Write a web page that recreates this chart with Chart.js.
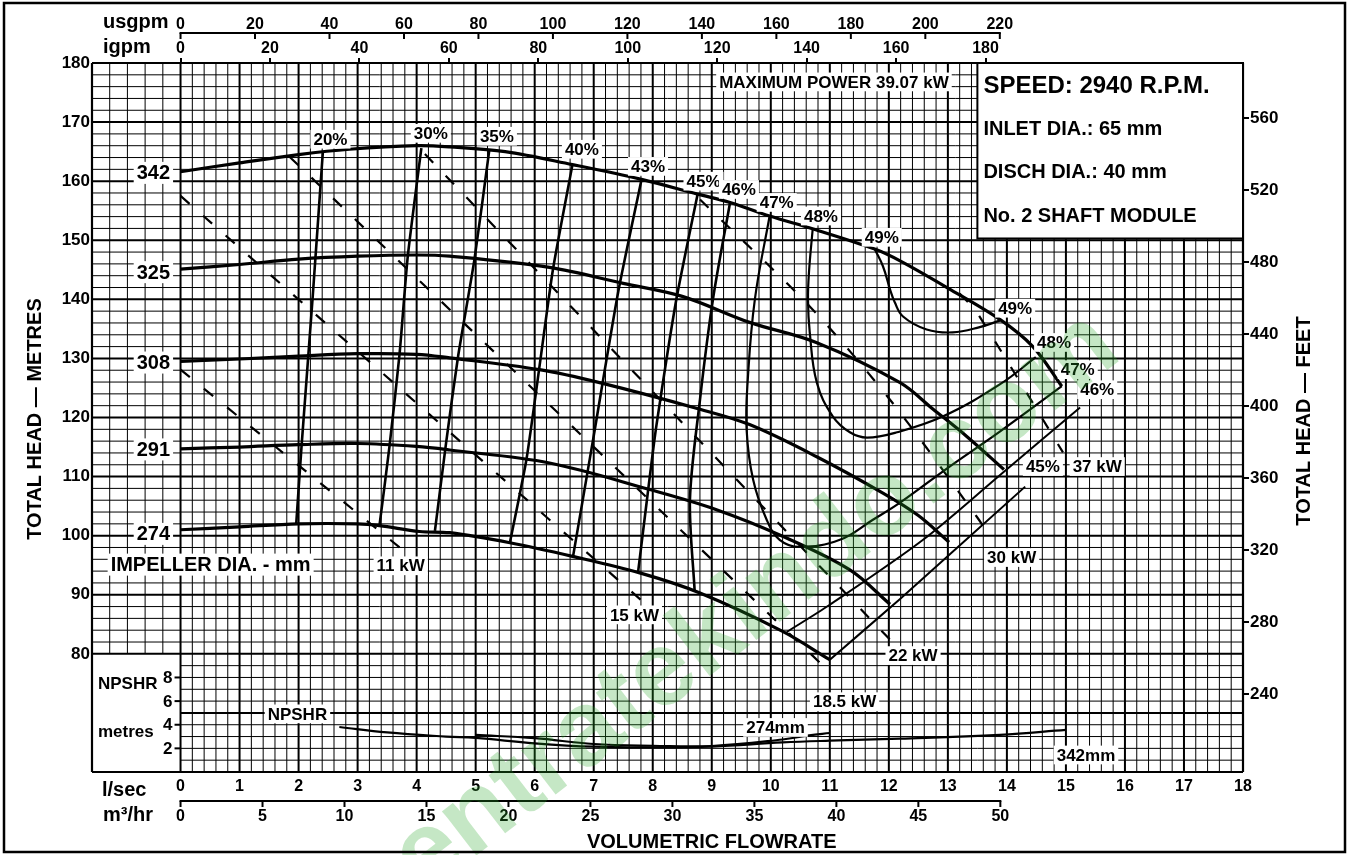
<!DOCTYPE html>
<html>
<head>
<meta charset="utf-8">
<script src="https://cdn.jsdelivr.net/npm/chart.js@4.4.1/dist/chart.umd.min.js"></script>
<style>
  html, body { margin: 0; padding: 0; background: #fff; }
  #pumpChart { display: block; }
</style>
</head>
<body>
<canvas id="pumpChart" width="1347" height="855"></canvas>
<script>
// unit factors from l/sec and metres
var M_TO_FT = 3.28084, LS_TO_USGPM = 15.8503, LS_TO_IGPM = 13.1982, LS_TO_M3HR = 3.6;

// tick labels
var lsecTicks = [0, 1, 2, 3, 4, 5, 6, 7, 8, 9, 10, 11, 12, 13, 14, 15, 16, 17, 18];
var m3hrTicks = [0, 5, 10, 15, 20, 25, 30, 35, 40, 45, 50];
var usgpmTicks = [0, 20, 40, 60, 80, 100, 120, 140, 160, 180, 200, 220];
var igpmTicks = [0, 20, 40, 60, 80, 100, 120, 140, 160, 180];
var headTicks = [80, 90, 100, 110, 120, 130, 140, 150, 160, 170, 180];
var feetTicks = [240, 280, 320, 360, 400, 440, 480, 520, 560];
var npshrTicks = [2, 4, 6, 8];

// head curves [l/sec, metres] per impeller diameter
var dia342 = [[0, 161.6], [1, 163.1], [2, 164.5], [2.86, 165.4], [4, 166.0], [4.56, 165.8], [5.5, 165.0], [6.64, 162.8], [7.81, 160.3], [8.76, 157.8], [9.31, 156.4], [9.98, 154.1], [10.72, 151.9], [11.76, 148.5], [12.19, 146.5], [13.0, 141.9], [13.88, 136.6], [14.44, 132.0], [14.93, 125.3]];
var dia325 = [[0, 145.1], [1, 145.9], [2, 146.8], [3, 147.3], [4, 147.5], [4.56, 147.3], [6.25, 145.4], [7.5, 142.7], [8.5, 140.5], [9.64, 136.1], [10.77, 132.7], [12.19, 125.9], [12.75, 121.4], [13.32, 116.8], [13.95, 111.2]];
var dia308 = [[0, 129.5], [1, 129.9], [2, 130.4], [3, 130.8], [4, 130.7], [4.56, 130.1], [6.08, 128.1], [7.1, 125.9], [8.8, 121.4], [9.64, 118.8], [10.77, 113.4], [11.9, 107.2], [12.5, 103.4], [13.02, 98.9]];
var dia291 = [[0, 114.7], [1, 115.0], [2, 115.4], [3, 115.6], [4, 115.1], [4.56, 114.5], [6.25, 112.3], [7.95, 107.8], [9.08, 104.4], [10.2, 99.9], [11.34, 94.2], [12.02, 88.4]];
var dia274 = [[0, 101.0], [1, 101.5], [2, 102.0], [3, 102.0], [3.37, 101.7], [4.05, 100.7], [4.56, 100.5], [5.58, 98.8], [6.64, 96.5], [7.78, 93.7], [8.8, 90.3], [10.2, 83.8], [11.0, 79.0]];

// efficiency lines [l/sec, metres]
var eff20 = [[2.41, 164.8], [2.24, 140.6], [2.05, 115.1], [1.96, 102.0]];
var eff30 = [[4.08, 165.6], [3.85, 147.3], [3.71, 130.7], [3.54, 115.1], [3.37, 101.7]];
var eff35 = [[5.23, 165.2], [4.98, 146.8], [4.7, 130.2], [4.5, 115.8], [4.31, 100.8]];
var eff40 = [[6.64, 162.8], [6.31, 145.1], [6.1, 130.0], [5.86, 112.9], [5.58, 98.8]];
var eff43 = [[7.81, 160.3], [7.41, 141.0], [6.99, 116.3], [6.65, 96.5]];
var eff45a = [[8.76, 157.8], [8.4, 140.0], [8.06, 118.5], [7.95, 110.0], [7.75, 93.7]];
var eff45b = [[11.0, 79.0], [12.19, 89.3], [14.31, 108.3]];
var eff46a = [[9.31, 156.4], [9.02, 140.0], [8.8, 123.0], [8.63, 106.1], [8.71, 90.6]];
var eff46b = [[10.27, 83.7], [11.0, 88.3], [12.58, 99.3], [13.9, 110.4], [15.24, 121.7]];
var eff47 = [[9.98, 154.1], [9.73, 140.0], [9.61, 126.4], [9.59, 118.0], [9.7, 109.5], [9.93, 102.7], [10.15, 99.3], [10.49, 98.1], [11.17, 99.3], [11.73, 102.7], [12.19, 105.6], [13.03, 111.7], [13.88, 117.6], [14.93, 125.3]];
var eff48 = [[10.71, 151.9], [10.65, 145.0], [10.63, 140.0], [10.66, 134.4], [10.78, 125.9], [11.05, 120.2], [11.34, 117.5], [11.63, 116.6], [12.14, 117.5], [12.92, 120.2], [13.88, 125.6], [14.49, 130.2]];
var eff49 = [[11.76, 148.5], [11.9, 145.6], [12.02, 141.7], [12.1, 139.5], [12.24, 137.1], [12.64, 134.9], [13.08, 134.4], [13.54, 135.3], [13.88, 136.4]];

// power lines [l/sec, metres]
var kw11 = [[0, 128.1], [3.8, 97.3]];
var kw15 = [[0, 157.5], [8.03, 87.1]];
var kw185 = [[1.85, 164.1], [11.0, 76.9]];
var kw22 = [[4.14, 164.6], [12.02, 82.4]];
var kw30 = [[8.8, 156.9], [10.66, 138.8], [12.02, 123.0], [13.49, 103.2], [13.75, 99.3]];
var kw37 = [[13.2, 141.0], [13.49, 137.8], [14.95, 114.1]];

// NPSHR [l/sec, metres]
var npshr342 = [[2.69, 3.81], [3.5, 3.35], [4.5, 3.0], [5.0, 2.88], [6.0, 2.43], [7.0, 2.14], [8.0, 2.08], [9.0, 2.15], [10.2, 2.5], [11.0, 2.65], [12.19, 2.82], [13.88, 3.15], [15.0, 3.56]];
var npshr274 = [[5.0, 3.14], [6.0, 2.86], [7.0, 2.37], [8.0, 2.22], [9.0, 2.2], [10.2, 2.75], [10.65, 3.1], [11.0, 3.3]];

// text on the chart, anchored in data units (x l/sec, y metres, or NPSHR metres when n is set)
var notes = [
  { t: '342', x: -0.46, y: 161.4, s: 20 }, { t: '325', x: -0.46, y: 144.6, s: 20 },
  { t: '308', x: -0.46, y: 129.3, s: 20 }, { t: '291', x: -0.46, y: 114.6, s: 20 },
  { t: '274', x: -0.46, y: 100.3, s: 20 }, { t: 'IMPELLER DIA. - mm', x: 0.51, y: 95.1, s: 20 },
  { t: '20%', x: 2.54, y: 167.1 }, { t: '30%', x: 4.24, y: 168.1 }, { t: '35%', x: 5.36, y: 167.6 },
  { t: '40%', x: 6.8, y: 165.4 }, { t: '43%', x: 7.92, y: 162.5 }, { t: '45%', x: 8.86, y: 160.0 },
  { t: '46%', x: 9.46, y: 158.6 }, { t: '47%', x: 10.1, y: 156.4 }, { t: '48%', x: 10.85, y: 154.1 },
  { t: '49%', x: 11.88, y: 150.5 }, { t: '49%', x: 14.14, y: 138.5 }, { t: '48%', x: 14.8, y: 132.7 },
  { t: '47%', x: 15.2, y: 128.1 }, { t: '46%', x: 15.53, y: 124.7 }, { t: '45%', x: 14.61, y: 111.7 },
  { t: '37 kW', x: 15.53, y: 111.7 }, { t: '30 kW', x: 14.08, y: 96.3 }, { t: '22 kW', x: 12.41, y: 79.7 },
  { t: '18.5 kW', x: 11.25, y: 71.9 }, { t: '15 kW', x: 7.69, y: 86.6 }, { t: '11 kW', x: 3.73, y: 94.9 },
  { t: 'MAXIMUM POWER 39.07 kW', x: 11.07, y: 176.8 },
  { t: 'NPSHR', x: 1.98, y: 4.92, n: true }, { t: '274mm', x: 10.08, y: 3.77, n: true },
  { t: '342mm', x: 15.34, y: 1.44, n: true }
];
var infoLines = [
  { t: 'SPEED: 2940 R.P.M.', y: 176.1, s: 24 }, { t: 'INLET DIA.: 65 mm', y: 168.8, s: 20 },
  { t: 'DISCH DIA.: 40 mm', y: 161.4, s: 20 }, { t: 'No. 2 SHAFT MODULE', y: 154.1, s: 20 }
];

var FONT = '"Liberation Sans", Arial, Helvetica, sans-serif';
function bold(px) { return 'bold ' + px + 'px ' + FONT; }
function toXY(pts) { return pts.map(function (p) { return { x: p[0], y: p[1] }; }); }
function fixTicks(list) { return function (s) { s.ticks = list.map(function (v) { return { value: v }; }); }; }

function curve(pts, w, tension, extra) {
  var d = { data: toXY(pts), borderColor: '#000', borderWidth: w, tension: tension, showLine: true, pointRadius: 0, fill: false };
  for (var k in extra || {}) d[k] = extra[k];
  return d;
}
var dash = { borderDash: [12, 18] };

var datasets = [
  curve(dia342, 3.2, 0.35), curve(dia325, 3.2, 0.35), curve(dia308, 3.2, 0.35),
  curve(dia291, 3.2, 0.35), curve(dia274, 3.2, 0.35),
  curve(eff20, 2.6, 0.2), curve(eff30, 2.6, 0.2), curve(eff35, 2.6, 0.2), curve(eff40, 2.6, 0.2),
  curve(eff43, 2.6, 0.2), curve(eff45a, 2.6, 0.2), curve(eff46a, 2.6, 0.3),
  curve(eff45b, 2.0, 0.2), curve(eff46b, 2.0, 0.3),
  curve(eff47, 2.2, 0.4), curve(eff48, 2.2, 0.4), curve(eff49, 2.2, 0.4),
  curve(kw11, 2.2, 0, dash), curve(kw15, 2.2, 0, dash), curve(kw185, 2.2, 0, dash),
  curve(kw22, 2.2, 0, dash), curve(kw30, 2.2, 0.3, dash), curve(kw37, 2.2, 0.2, dash),
  curve(npshr342, 2.2, 0.4, { yAxisID: 'yN' }), curve(npshr274, 2.2, 0.4, { yAxisID: 'yN' })
];

function line(ctx, x1, y1, x2, y2, w) {
  ctx.beginPath(); ctx.lineWidth = w; ctx.moveTo(x1, y1); ctx.lineTo(x2, y2); ctx.stroke();
}

// squared paper behind the curves
var paperGrid = {
  id: 'paperGrid',
  beforeDatasetsDraw: function (chart) {
    var ctx = chart.ctx, xs = chart.scales.x, ys = chart.scales.y;
    var X = function (v) { return xs.getPixelForValue(v); }, Y = function (v) { return ys.getPixelForValue(v); };
    ctx.save();
    ctx.strokeStyle = '#000';
    for (var i = 0; i <= 90; i++) {
      var v = i * 0.2, major = i % 5 === 0;
      line(ctx, X(v), Y(60), X(v), Y(180), major ? 2 : 1);
    }
    for (var j = 1; j < 5; j++) line(ctx, X(-1.5 + j * 0.3), Y(80), X(-1.5 + j * 0.3), Y(180), 1);
    for (var h = 60; h <= 180; h += 2) {
      var maj = h % 10 === 0;
      line(ctx, X(h >= 80 ? -1.5 : 0), Y(h), X(18), Y(h), maj ? 2 : 1);
    }
    line(ctx, X(-1.5), Y(60), X(-1.5), Y(180), 2.2);
    line(ctx, X(-1.5), Y(60), X(18), Y(60), 2.2);
    line(ctx, X(18), Y(60), X(18), Y(180), 2.2);
    line(ctx, X(-1.5), Y(180), X(18), Y(180), 2.2);
    ctx.restore();
  }
};

function boxText(ctx, text, px, py, size, align) {
  ctx.font = bold(size);
  var w = ctx.measureText(text).width, left = align === 'left' ? px : px - w / 2;
  ctx.fillStyle = '#fff';
  ctx.fillRect(left - 3, py - size * 0.55, w + 6, size * 1.1);
  ctx.fillStyle = '#000';
  ctx.textAlign = 'left'; ctx.textBaseline = 'middle';
  ctx.fillText(text, left, py + 1);
}

function plainText(ctx, text, px, py, size, align, rot) {
  ctx.save();
  ctx.translate(px, py);
  if (rot) ctx.rotate(rot);
  ctx.font = bold(size); ctx.fillStyle = '#000';
  ctx.textAlign = align || 'left'; ctx.textBaseline = 'middle';
  ctx.fillText(text, 0, 0);
  ctx.restore();
}

var overlay = {
  id: 'overlay',
  afterDatasetsDraw: function (chart) {
    var ctx = chart.ctx, xs = chart.scales.x, ys = chart.scales.y, yn = chart.scales.yN;
    var X = function (v) { return xs.getPixelForValue(v); }, Y = function (v) { return ys.getPixelForValue(v); };
    ctx.save();
    ctx.strokeStyle = '#000';

    // info box top right
    ctx.fillStyle = '#fff';
    ctx.fillRect(X(13.5), Y(180), X(18) - X(13.5), Y(150.3) - Y(180));
    ctx.lineWidth = 2; ctx.strokeRect(X(13.5), Y(180), X(18) - X(13.5), Y(150.3) - Y(180));
    infoLines.forEach(function (l) { plainText(ctx, l.t, X(13.5) + 6, Y(l.y), l.s, 'left'); });

    // NPSHR scale inside the left box
    npshrTicks.forEach(function (v) {
      line(ctx, X(0) - 6, yn.getPixelForValue(v), X(0), yn.getPixelForValue(v), 2);
      plainText(ctx, String(v), X(0) - 8, yn.getPixelForValue(v) + 1, 17, 'right');
    });
    plainText(ctx, 'NPSHR', X(-1.5) + 6, yn.getPixelForValue(7.4), 17, 'left');
    plainText(ctx, 'metres', X(-1.5) + 6, yn.getPixelForValue(3.4), 17, 'left');

    notes.forEach(function (n) {
      var py = n.n ? yn.getPixelForValue(n.y) : Y(n.y);
      boxText(ctx, n.t, X(n.x), py, n.s || 17);
    });
    ctx.restore();
  },
  afterDraw: function (chart) {
    var ctx = chart.ctx, us = chart.scales.usgpm, m3 = chart.scales.m3hr, xs = chart.scales.x;
    var area = chart.chartArea;
    ctx.save();
    ctx.strokeStyle = '#000';
    // usgpm and m3/hr axis rules
    var uy = us.bottom - 7;
    line(ctx, us.getPixelForValue(0) - 1, uy, us.getPixelForValue(220) + 1, uy, 2);
    usgpmTicks.forEach(function (v) { line(ctx, us.getPixelForValue(v), uy, us.getPixelForValue(v), uy + 6, 2); });
    var my = m3.top + 1;
    line(ctx, m3.getPixelForValue(0) - 1, my, m3.getPixelForValue(50) + 1, my, 2);
    m3hrTicks.forEach(function (v) { line(ctx, m3.getPixelForValue(v), my, m3.getPixelForValue(v), my + 6, 2); });

    plainText(ctx, 'usgpm', 103, 22, 20, 'left');
    plainText(ctx, 'igpm', 103, 47, 20, 'left');
    plainText(ctx, 'l/sec', 102, 790, 20, 'left');
    plainText(ctx, 'm³/hr', 103, 815, 20, 'left');
    plainText(ctx, 'VOLUMETRIC FLOWRATE', (xs.getPixelForValue(0) + xs.getPixelForValue(18)) / 2, 842, 20, 'center');
    plainText(ctx, 'TOTAL HEAD — METRES', 35, 419, 20, 'center', -Math.PI / 2);
    plainText(ctx, 'TOTAL HEAD — FEET', 1304, 421, 20, 'center', -Math.PI / 2);

    // watermark
    ctx.save();
    ctx.translate(area.left + 285, area.bottom + 160);
    ctx.rotate(-0.656);
    ctx.font = 'bold 106px ' + FONT;
    ctx.fillStyle = 'rgba(40,165,40,0.27)';
    ctx.textBaseline = 'alphabetic';
    ctx.textAlign = 'left';
    ctx.fillText('centratekindo.com', 0, 0);
    ctx.restore();

    ctx.lineWidth = 2.5;
    ctx.strokeRect(4, 3, 1341, 849);
    ctx.restore();
  }
};

var tickFont = function (px) { return { family: FONT, size: px, weight: 'bold', lineHeight: 1 }; };

new Chart(document.getElementById('pumpChart').getContext('2d'), {
  type: 'scatter',
  data: { datasets: datasets },
  plugins: [paperGrid, overlay],
  options: {
    responsive: false,
    animation: false,
    devicePixelRatio: 1,
    layout: { padding: 0 },
    plugins: { legend: { display: false }, tooltip: { enabled: false } },
    elements: { point: { radius: 0 } },
    scales: {
      x: {
        type: 'linear', position: 'bottom', weight: 0, min: -1.5, max: 18,
        afterBuildTicks: fixTicks(lsecTicks), afterFit: function (s) { s.height = 28; },
        grid: { display: false, drawTicks: false }, border: { display: false },
        ticks: { padding: 7, color: '#000', font: tickFont(16), maxRotation: 0, autoSkip: false }
      },
      m3hr: {
        type: 'linear', position: 'bottom', weight: 1, min: -1.5 * LS_TO_M3HR, max: 18 * LS_TO_M3HR,
        afterBuildTicks: fixTicks(m3hrTicks), afterFit: function (s) { s.height = 55; },
        grid: { display: false, drawTicks: false }, border: { display: false },
        ticks: { padding: 9, color: '#000', font: tickFont(16), maxRotation: 0, autoSkip: false }
      },
      igpm: {
        type: 'linear', position: 'top', weight: 0, min: -1.5 * LS_TO_IGPM, max: 18 * LS_TO_IGPM,
        afterBuildTicks: fixTicks(igpmTicks), afterFit: function (s) { s.height = 23; },
        grid: { drawOnChartArea: false, drawTicks: true, tickLength: 5, color: '#000', lineWidth: 2 },
        border: { display: false },
        ticks: { padding: 1, color: '#000', font: tickFont(16), maxRotation: 0, autoSkip: false }
      },
      usgpm: {
        type: 'linear', position: 'top', weight: 1, min: -1.5 * LS_TO_USGPM, max: 18 * LS_TO_USGPM,
        afterBuildTicks: fixTicks(usgpmTicks), afterFit: function (s) { s.height = 40; },
        grid: { display: false, drawTicks: false }, border: { display: false },
        ticks: { padding: 7, color: '#000', font: tickFont(16), maxRotation: 0, autoSkip: false }
      },
      y: {
        type: 'linear', position: 'left', min: 60, max: 180,
        afterBuildTicks: fixTicks(headTicks), afterFit: function (s) { s.width = 92; },
        grid: { display: false, drawTicks: false }, border: { display: false },
        ticks: { padding: 2, color: '#000', font: tickFont(17) }
      },
      feet: {
        type: 'linear', position: 'right', min: 60 * M_TO_FT, max: 180 * M_TO_FT,
        afterBuildTicks: fixTicks(feetTicks), afterFit: function (s) { s.width = 104; },
        grid: { drawOnChartArea: false, drawTicks: true, tickLength: 6, color: '#000', lineWidth: 2 },
        border: { display: false },
        ticks: { padding: 1, color: '#000', font: tickFont(17) }
      },
      yN: { type: 'linear', display: false, min: 0, max: 60 }
    }
  }
});
</script>
</body>
</html>
